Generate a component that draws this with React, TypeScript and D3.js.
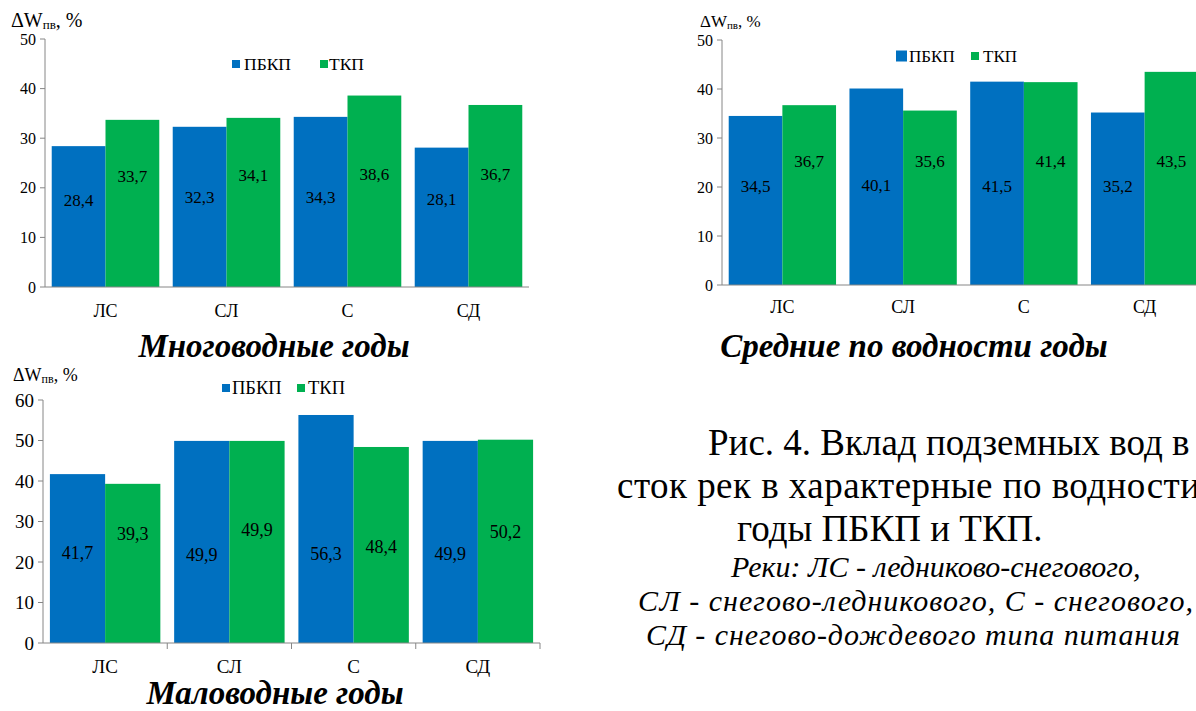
import React from 'react';
import * as d3 from 'd3';

const categories = ['ЛС', 'СЛ', 'С', 'СД'];
const seriesNames = ['ПБКП', 'ТКП'];
const seriesColors = ['#0070C0', '#00B050'];

// многоводные годы
const highPBKP = [28.4, 32.3, 34.3, 28.1];
const highTKP = [33.7, 34.1, 38.6, 36.7];
// средние по водности годы
const meanPBKP = [34.5, 40.1, 41.5, 35.2];
const meanTKP = [36.7, 35.6, 41.4, 43.5];
// маловодные годы
const lowPBKP = [41.7, 49.9, 56.3, 49.9];
const lowTKP = [39.3, 49.9, 48.4, 50.2];

const ticks50 = [0, 10, 20, 30, 40, 50];
const ticks60 = [0, 10, 20, 30, 40, 50, 60];

const captionLines = ['Рис. 4. Вклад подземных вод в', 'сток рек в характерные по водности', 'годы ПБКП и ТКП.'];
const noteLines = ['Реки: ЛС - ледниково-снегового,', 'СЛ - снегово-ледникового, С - снегового,', 'СД - снегово-дождевого типа питания'];

const FONT = 'Liberation Serif';
const AXIS = '#868686';

// panel layout in pixels; the data labels were dragged by hand in the original, so their heights live here
const panels = [
  {
    title: 'Многоводные годы',
    values: [highPBKP, highTKP],
    ticks: ticks50,
    max: 50,
    x0: 45, x1: 529, yTop: 39, yBottom: 287,
    tickFont: 16, labelFont: 17, catFont: 18, legendFont: 17.5,
    catY: 317,
    xTicks: false,
    labelAt: [[17.6, 18.1, 18.1, 17.7], [22.3, 22.6, 22.8, 22.8]],
    legend: { y: 64, items: [{ sx: 232, s: 8, tx: 244 }, { sx: 320, s: 8, tx: 329 }] },
    yLabel: { x: 11, y: 27, size: 20, sub: 13 },
    titleX: 274, titleY: 357,
  },
  {
    title: 'Средние по водности годы',
    values: [meanPBKP, meanTKP],
    ticks: ticks50,
    max: 50,
    x0: 722, x1: 1205, yTop: 40, yBottom: 285,
    tickFont: 16, labelFont: 17, catFont: 18, legendFont: 17,
    catY: 313,
    xTicks: false,
    labelAt: [[20.1, 20.3, 20.2, 20.2], [25.2, 25.2, 25.3, 25.3]],
    legend: { y: 56, items: [{ sx: 896, s: 11, tx: 909 }, { sx: 971, s: 8, tx: 983 }] },
    yLabel: { x: 700, y: 27, size: 17, sub: 11 },
    titleX: 914, titleY: 357,
  },
  {
    title: 'Маловодные годы',
    values: [lowPBKP, lowTKP],
    ticks: ticks60,
    max: 60,
    x0: 43, x1: 540, yTop: 400, yBottom: 643,
    tickFont: 19, labelFont: 18, catFont: 19, legendFont: 18.5,
    catY: 673,
    xTicks: true,
    labelAt: [[22.2, 21.7, 22.0, 22.0], [26.9, 27.9, 23.8, 27.5]],
    legend: { y: 388, items: [{ sx: 222, s: 8, tx: 232 }, { sx: 297, s: 8, tx: 308 }] },
    yLabel: { x: 13, y: 381, size: 18, sub: 12 },
    titleX: 275, titleY: 704,
  },
];

const Panel = ({ p }: { p: any }) => {
  const x = d3.scaleBand().domain(categories).range([p.x0, p.x1]).paddingInner(0).paddingOuter(0);
  const inner = d3.scaleBand().domain(seriesNames).range([0, x.bandwidth()]).paddingInner(0).paddingOuter(0.125);
  const y = d3.scaleLinear().domain([0, p.max]).range([p.yBottom, p.yTop]);

  return (
    <g fontFamily={FONT}>
      {/* bars */}
      {p.values.map((vals: number[], si: number) =>
        vals.map((v, i) => (
          <rect
            key={`b${si}-${i}`}
            x={x(categories[i])! + inner(seriesNames[si])!}
            y={y(v)}
            width={inner.bandwidth()}
            height={y(0) - y(v)}
            fill={seriesColors[si]}
          />
        ))
      )}
      {/* data labels */}
      {p.values.map((vals: number[], si: number) =>
        vals.map((v, i) => (
          <text
            key={`l${si}-${i}`}
            x={x(categories[i])! + inner(seriesNames[si])! + inner.bandwidth() / 2}
            y={y(p.labelAt[si][i])}
            dy="0.35em"
            textAnchor="middle"
            fontSize={p.labelFont}
            fill="#000"
          >
            {String(v).replace('.', ',')}
          </text>
        ))
      )}
      {/* y axis */}
      <line x1={p.x0} x2={p.x0} y1={y(p.max)} y2={y(0)} stroke={AXIS} />
      {p.ticks.map((t: number) => (
        <g key={`t${t}`}>
          <line x1={p.x0 - 5} x2={p.x0} y1={y(t)} y2={y(t)} stroke={AXIS} />
          <text x={p.x0 - 9} y={y(t)} dy="0.35em" textAnchor="end" fontSize={p.tickFont}>
            {t}
          </text>
        </g>
      ))}
      {/* x axis */}
      <line x1={p.x0} x2={p.x1} y1={y(0)} y2={y(0)} stroke={AXIS} />
      {p.xTicks &&
        categories.map((c) => (
          <line key={`xt${c}`} x1={x(c)! + x.bandwidth()} x2={x(c)! + x.bandwidth()} y1={y(0)} y2={y(0) + 6} stroke={AXIS} />
        ))}
      {categories.map((c) => (
        <text key={`c${c}`} x={x(c)! + x.bandwidth() / 2} y={p.catY} textAnchor="middle" fontSize={p.catFont}>
          {c}
        </text>
      ))}
      {/* legend */}
      {seriesNames.map((name, si) => {
        const it = p.legend.items[si];
        return (
          <g key={`lg${name}`}>
            <rect x={it.sx} y={p.legend.y - it.s / 2} width={it.s} height={it.s} fill={seriesColors[si]} />
            <text x={it.tx} y={p.legend.y} dy="0.35em" fontSize={p.legendFont}>
              {name}
            </text>
          </g>
        );
      })}
      {/* y label */}
      <text x={p.yLabel.x} y={p.yLabel.y} fontSize={p.yLabel.size}>
        ΔW
        <tspan fontSize={p.yLabel.sub} dy={2}>пв</tspan>
        <tspan dy={-2}>, %</tspan>
      </text>
      {/* panel title */}
      <text x={p.titleX} y={p.titleY} textAnchor="middle" fontSize={33} fontWeight="bold" fontStyle="italic">
        {p.title}
      </text>
    </g>
  );
};

// caption block: the original text is justified, so some lines are stretched to their width
const capX = [708, 617, 737];
const capY = [455, 498, 541];
const capLen = [null, 583, null];
const noteX = [731, 638, 646];
const noteY = [577, 611, 645];
const noteLen = [null, 555, 534];

const App = () => (
  <svg width={1196} height={711} style={{ position: 'absolute', left: 0, top: 0, background: '#fff' }}>
    {panels.map((p) => (
      <Panel key={p.title} p={p} />
    ))}
    <g fontFamily={FONT}>
      {captionLines.map((line, i) => (
        <text
          key={line}
          x={capX[i]}
          y={capY[i]}
          fontSize={37}
          {...(capLen[i] ? { textLength: capLen[i], lengthAdjust: 'spacing' } : {})}
        >
          {line}
        </text>
      ))}
      {noteLines.map((line, i) => (
        <text
          key={line}
          x={noteX[i]}
          y={noteY[i]}
          fontSize={30}
          fontStyle="italic"
          {...(noteLen[i] ? { textLength: noteLen[i], lengthAdjust: 'spacing' } : {})}
        >
          {line}
        </text>
      ))}
    </g>
  </svg>
);

export default App;
